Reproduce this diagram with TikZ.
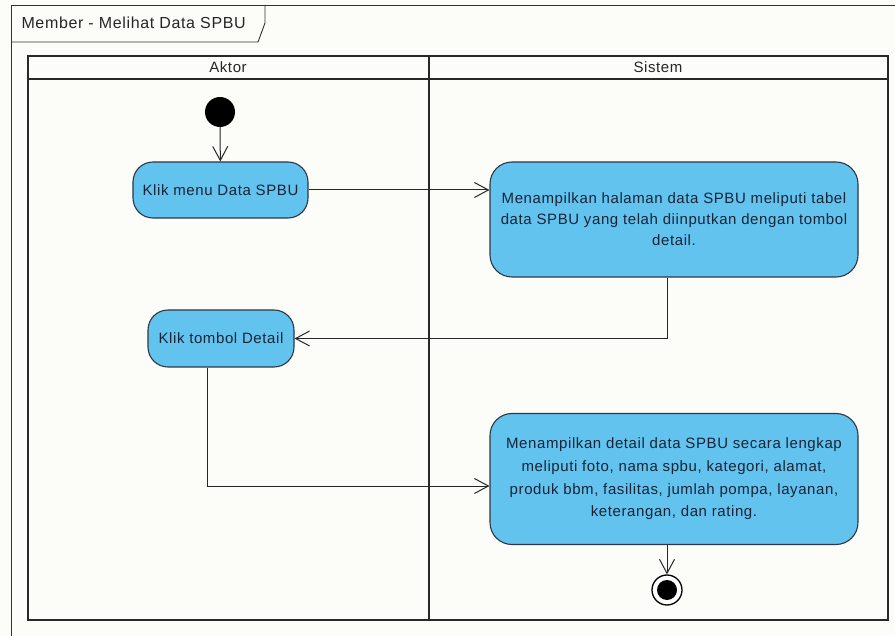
\documentclass[tikz,border=0pt]{standalone}
\usepackage{fontspec}
\setmainfont{Liberation Sans}[LetterSpace=4]
\usetikzlibrary{arrows.meta,calc}
\definecolor{actfill}{RGB}{98,196,238}
\definecolor{actline}{RGB}{45,55,70}
\definecolor{acttext}{RGB}{25,35,55}
\definecolor{lanecol}{RGB}{40,40,40}
\definecolor{paper}{RGB}{252,252,248}
\begin{document}
\begin{tikzpicture}[x=1pt,y=-1pt,
  every node/.style={font=\fontsize{15}{19}\selectfont},
  action/.style={draw=actline,line width=1.1pt,fill=actfill,rounded corners=20pt,
    align=center,text=acttext,inner sep=0pt},
  flow/.style={draw=black!85,line width=1pt,-{Straight Barb[length=14pt,width=15pt,line width=1pt]}},
  lane/.style={draw=lanecol,line width=2.6pt},
  framel/.style={draw=black!80,line width=0.9pt}]
  % page
  \fill[paper] (0,0) rectangle (895,636);
  \useasboundingbox (0,0) rectangle (895,636);
  % diagram frame with its name tab
  \draw[framel] (11,642) -- (11,5) -- (900,5);
  \draw[framel] (265,5) -- (265,23) -- (258,42) -- (11,42);
  \node[anchor=west,text=black!85,font=\fontsize{16}{19}\selectfont] (title) at (18,23) {Member - Melihat Data SPBU};
  % swimlanes
  \draw[lane] (28,56) rectangle (888,620);
  \draw[lane] (28,79) -- (888,79);
  \draw[lane] (429,56) -- (429,620);
  \node[text=black!85] (laneA) at (228,67.5) {Aktor};
  \node[text=black!85] (laneS) at (658,67.5) {Sistem};
  % activities
  \node[circle,fill=black,minimum size=30pt,inner sep=0pt] (start) at (220,112) {};
  \node[action,minimum width=175pt,minimum height=56pt] (klikmenu) at (220.5,190) {Klik menu Data SPBU};
  \node[action,minimum width=368pt,minimum height=115pt,rounded corners=22pt,
    font=\fontsize{15}{21}\selectfont] (tampil) at (674,219.5)
    {Menampilkan halaman data SPBU meliputi tabel\\data SPBU yang telah diinputkan dengan tombol\\detail.};
  \node[action,minimum width=146pt,minimum height=57pt] (klikdetail) at (221,338.5) {Klik tombol Detail};
  \node[action,minimum width=368pt,minimum height=131pt,rounded corners=22pt,
    font=\fontsize{15}{22.6}\selectfont] (detail) at (674,479)
    {Menampilkan detail data SPBU secara lengkap\\meliputi foto, nama spbu, kategori, alamat,\\produk bbm, fasilitas, jumlah pompa, layanan,\\keterangan, dan rating.};
  \node[circle,draw=black,line width=1.3pt,fill=white,minimum size=30pt,inner sep=0pt] (final) at (667,590) {};
  \fill[black] (final.center) circle (10pt);
  % control flow
  \draw[flow] (start) -- (klikmenu);
  \draw[flow] (klikmenu.east) -- (klikmenu.east -| tampil.west);
  \draw[flow] (tampil.south -| final.north) |- (klikdetail.east);
  \draw[flow] ([xshift=-14pt]klikdetail.south) |- ([yshift=-7pt]detail.west);
  \draw[flow] (detail.south -| final.north) -- (final.north);
\end{tikzpicture}
\end{document}
